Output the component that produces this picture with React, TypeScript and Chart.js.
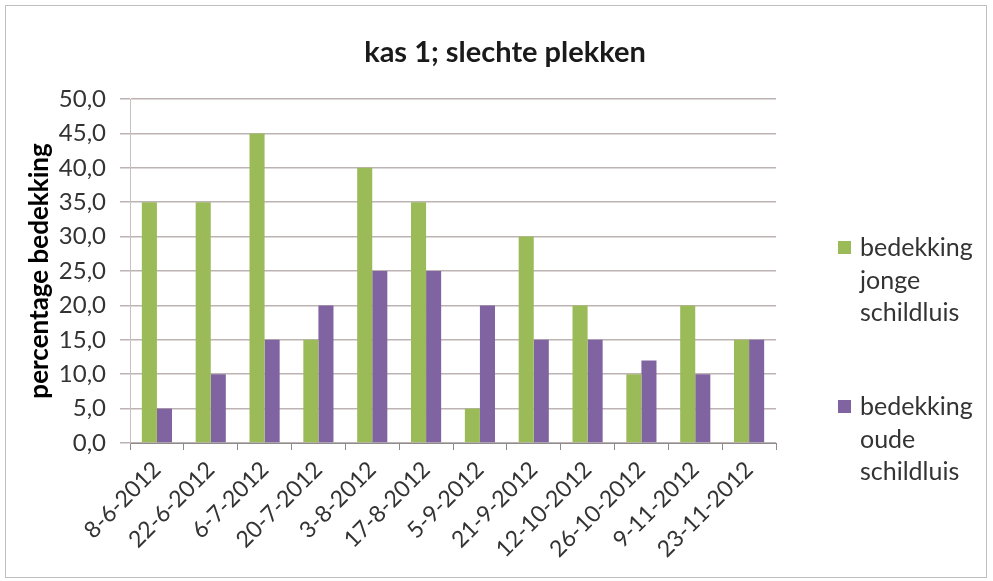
import React, { useEffect, useRef } from "react";
import { Chart, registerables } from "chart.js";

Chart.register(...registerables);

const categories = [
  "8-6-2012", "22-6-2012", "6-7-2012", "20-7-2012", "3-8-2012", "17-8-2012",
  "5-9-2012", "21-9-2012", "12-10-2012", "26-10-2012", "9-11-2012", "23-11-2012",
];
const jongeValues = [35, 35, 45, 15, 40, 35, 5, 30, 20, 10, 20, 15];
const oudeValues = [5, 10, 15, 20, 25, 25, 20, 15, 15, 12, 10, 15];
const seriesNames = [["bedekking", "jonge", "schildluis"], ["bedekking", "oude", "schildluis"]];
const title = "kas 1; slechte plekken";
const yTitle = "percentage bedekking";

const GREEN = "#9BBB59";
const PURPLE = "#8064A2";
const FONT = "Lato, 'Open Sans', sans-serif";
const TEXT = "#333333";

export default function App() {
  const ref = useRef<HTMLCanvasElement | null>(null);
  useEffect(() => {
    if (!ref.current) return;
    const chart = new Chart(ref.current, {
      type: "bar",
      data: {
        labels: categories,
        datasets: [
          { label: seriesNames[0].join(" "), data: jongeValues, backgroundColor: GREEN, barPercentage: 1, categoryPercentage: 0.56 },
          { label: seriesNames[1].join(" "), data: oudeValues, backgroundColor: PURPLE, barPercentage: 1, categoryPercentage: 0.56 },
        ],
      },
      options: {
        animation: false,
        responsive: false,
        layout: { padding: { left: 24, right: 217, top: 99, bottom: 0 } },
        plugins: {
          legend: { display: false },
          tooltip: { enabled: false },
          title: { display: false },
        },
        scales: {
          x: {
            grid: { display: true, drawOnChartArea: false, drawTicks: true, tickLength: 7, offset: true, color: "#8c8c8c" },
            border: { color: "#8c8c8c" },
            ticks: {
              color: TEXT,
              font: { family: FONT, size: 23 },
              maxRotation: 45,
              minRotation: 45,
              autoSkip: false,
              padding: 6,
            },
            afterFit: (s: any) => { s.height = 138; },
          },
          y: {
            min: 0,
            max: 50,
            ticks: {
              stepSize: 5,
              color: TEXT,
              font: { family: FONT, size: 24 },
              padding: 14,
              callback: (v: any) => Number(v).toFixed(1).replace(".", ","),
            },
            grid: { color: "#bdb3b3", tickLength: 10, lineWidth: 1.5 },
            border: { color: "#c8c0c0" },
            title: {
              display: true,
              text: yTitle,
              color: "#000",
              font: { family: FONT, size: 26, weight: "bold" },
              padding: 0,
            },
            afterFit: (s: any) => { s.width = 106; },
          },
        },
      },
    });
    return () => chart.destroy();
  }, []);

  const legendItem = (color: string, lines: string[], top: number) => (
    <div style={{ position: "absolute", left: 838, top, display: "flex", alignItems: "flex-start" }}>
      <div style={{ width: 13, height: 13, background: color, marginTop: 11, marginRight: 9 }} />
      <div style={{ fontFamily: FONT, fontSize: 25, lineHeight: "32.5px", color: TEXT }}>
        {lines.map((l, i) => <div key={i}>{l}</div>)}
      </div>
    </div>
  );

  return (
    <div style={{ position: "fixed", left: 0, top: 0, width: 993, height: 581, background: "#fff" }}>
      <div style={{ position: "absolute", left: 5, top: 5, width: 980, height: 571, border: "1px solid #bfbfbf" }} />
      <canvas ref={ref} width={993} height={581} style={{ position: "absolute", left: 0, top: 0 }} />
      <div style={{ position: "absolute", left: 305, width: 400, top: 33, textAlign: "center", fontFamily: FONT, fontWeight: "bold", fontSize: 29, lineHeight: "36px", color: "#1a1a1a" }}>
        {title}
      </div>
      {legendItem(GREEN, seriesNames[0], 230)}
      {legendItem(PURPLE, seriesNames[1], 389)}
    </div>
  );
}
